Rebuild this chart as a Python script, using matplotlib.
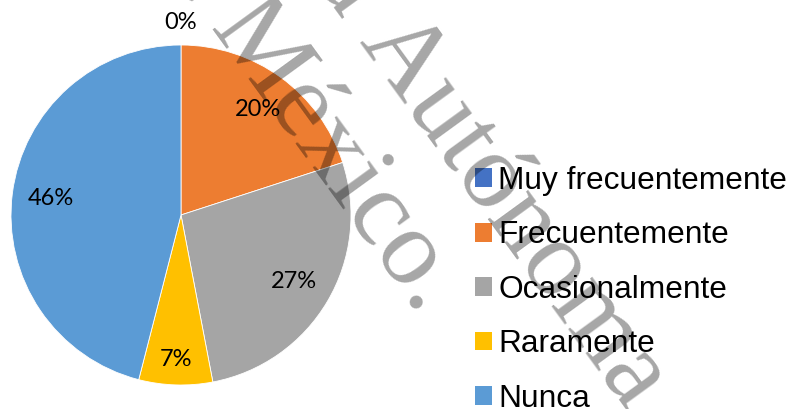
import matplotlib
matplotlib.use("Agg")
import matplotlib.pyplot as plt
from matplotlib.patches import Patch
import numpy as np

categories = ["Muy frecuentemente", "Frecuentemente", "Ocasionalmente", "Raramente", "Nunca"]
values = [0, 20, 27, 7, 46]
colors = ["#4472C4", "#ED7D31", "#A5A5A5", "#FFC000", "#5B9BD5"]
watermark_prefix = ["Universidad ", "del Estado de "]
watermark_words = ["Autónoma", "México."]

# label radial distances (fraction of radius), style only
label_dist = [1.135, 0.77, 0.77, 0.85, 0.77]

W, H = 793, 409
fig = plt.figure(figsize=(W / 100, H / 100), dpi=100)
cx, cy, r = 181, 215, 170
ax = fig.add_axes([(cx - r) / W, (H - cy - r) / H, 2 * r / W, 2 * r / H])
wedges, texts, autotexts = ax.pie(
    values, colors=colors, startangle=90, counterclock=False,
    autopct='%1.0f%%', pctdistance=0.77, radius=1,
    wedgeprops=dict(linewidth=0.6, edgecolor='white'),
    textprops=dict(fontsize=17, family='Lato', color='black'))
ax.set_xlim(-1, 1)
ax.set_ylim(-1, 1)
ax.set_aspect('equal')
for w, t, d in zip(wedges, autotexts, label_dist):
    if w.theta2 - w.theta1 == 0:
        w.set_linewidth(0)
    mid = np.deg2rad((w.theta1 + w.theta2) / 2)
    t.set_position((d * np.cos(mid), d * np.sin(mid)))
    t.set_clip_on(False)

handles = [Patch(facecolor=c, edgecolor='none') for c in colors]
fig.legend(handles, categories, loc='upper left',
           bbox_to_anchor=(475 / W, 1 - 166 / H), frameon=False,
           prop=dict(family='Liberation Sans', size=22.8),
           handlelength=0.54, handleheight=0.54, handletextpad=0.2,
           labelspacing=0.77, borderpad=0, borderaxespad=0)

# watermark
starts = [(358, 42), (208, 29)]
wm = dict(rotation=-54, rotation_mode='anchor', va='baseline',
          family='Liberation Serif', fontsize=78, color='black',
          alpha=0.35, zorder=10)
for pre, word, (x, y) in zip(watermark_prefix, watermark_words, starts):
    fig.text(x / W, 1 - y / H, pre, ha='right', **wm)
    fig.text(x / W, 1 - y / H, word, ha='left', **wm)

fig.savefig("out.png", dpi=100)
